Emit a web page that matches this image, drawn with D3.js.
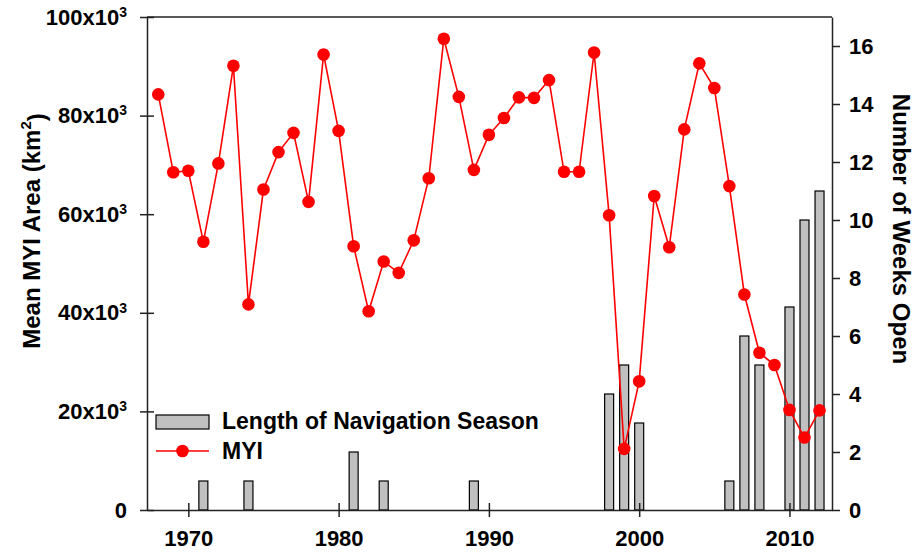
<!DOCTYPE html>
<html>
<head>
<meta charset="utf-8">
<script src="https://cdn.jsdelivr.net/npm/d3@7/dist/d3.min.js"></script>
<style>
  body { margin: 0; background: #fff; }
  svg text { font-family: "Liberation Sans", Arial, sans-serif; font-weight: bold; fill: #000; }
</style>
</head>
<body>
<div id="chart"></div>
<script>
// MYI area, one value per year (km^2)
var years = [1968, 1969, 1970, 1971, 1972, 1973, 1974, 1975, 1976, 1977,
             1978, 1979, 1980, 1981, 1982, 1983, 1984, 1985, 1986, 1987,
             1988, 1989, 1990, 1991, 1992, 1993, 1994, 1995, 1996, 1997,
             1998, 1999, 2000, 2001, 2002, 2003, 2004, 2005, 2006, 2007,
             2008, 2009, 2010, 2011, 2012];
var myiArea = [84300, 68500, 68800, 54400, 70300, 90100, 41700, 65000, 72600, 76500,
               62500, 92400, 76900, 53500, 40300, 50400, 48100, 54700, 67300, 95600,
               83800, 69000, 76100, 79500, 83700, 83600, 87200, 68600, 68600, 92800,
               59800, 12400, 26100, 63700, 53300, 77200, 90600, 85600, 65700, 43700,
               31900, 29400, 20300, 14700, 20200];

// length of navigation season (weeks open)
var navYears = [1971, 1974, 1981, 1983, 1989, 1998, 1999, 2000, 2006, 2007, 2008, 2010, 2011, 2012];
var navWeeks = [1, 1, 2, 1, 1, 4, 5, 3, 1, 6, 5, 7, 10, 11];

// tick labels
var yearTicks = [1970, 1980, 1990, 2000, 2010];
var areaTicks = [0, 20000, 40000, 60000, 80000, 100000];
var weekTicks = [0, 2, 4, 6, 8, 10, 12, 14, 16];

var width = 918, height = 552;
var plot = {left: 147, right: 832, top: 17, bottom: 510};

var svg = d3.select("#chart").append("svg")
            .attr("width", width)
            .attr("height", height);

var x = d3.scaleLinear().domain([1967.25, 2012.83]).range([plot.left, plot.right]);
var y = d3.scaleLinear().domain([0, 100000]).range([plot.bottom, plot.top]);
var yWeeks = d3.scaleLinear().domain([0, 17]).range([plot.bottom, plot.top]);

// bars (weeks open)
var barW = 9;
svg.append("g").selectAll("rect")
   .data(navYears)
   .join("rect")
   .attr("x", function (d) { return x(d) - barW / 2; })
   .attr("y", function (d, i) { return yWeeks(navWeeks[i]); })
   .attr("width", barW)
   .attr("height", function (d, i) { return yWeeks(0) - yWeeks(navWeeks[i]); })
   .attr("fill", "#c0c0c0")
   .attr("stroke", "#000")
   .attr("stroke-width", 1.2);

// MYI line + points
var line = d3.line()
             .x(function (d) { return x(d); })
             .y(function (d, i) { return y(myiArea[i]); });

svg.append("path")
   .datum(years)
   .attr("d", line)
   .attr("fill", "none")
   .attr("stroke", "#ff0000")
   .attr("stroke-width", 1.6);

svg.append("g").selectAll("circle")
   .data(years)
   .join("circle")
   .attr("cx", function (d) { return x(d); })
   .attr("cy", function (d, i) { return y(myiArea[i]); })
   .attr("r", 6.3)
   .attr("fill", "#ff0000");

// top border
svg.append("line")
   .attr("x1", plot.left).attr("x2", plot.right)
   .attr("y1", plot.top).attr("y2", plot.top)
   .attr("stroke", "#222").attr("stroke-width", 1.5);

// Axis X
var gx = svg.append("g")
            .attr("transform", "translate(0," + plot.bottom + ")")
            .call(d3.axisBottom(x).tickValues(yearTicks).tickFormat(d3.format("d"))
                                  .tickSizeInner(7).tickSizeOuter(0));
gx.selectAll(".tick line").attr("y1", -7);
gx.selectAll(".tick text").attr("y", 20).attr("font-size", 22);

// Axis Y left (area)
var gy = svg.append("g")
            .attr("transform", "translate(" + plot.left + ",0)")
            .call(d3.axisLeft(y).tickValues(areaTicks).tickSizeInner(7).tickSizeOuter(0).tickPadding(13));
gy.selectAll(".tick line").attr("x1", 7);
gy.selectAll(".tick text")
  .attr("font-size", 22)
  .each(function (d) {
      var t = d3.select(this).text(null);
      if (d === 0) { t.text("0"); return; }
      t.append("tspan").text((d / 1000) + "x10");
      t.append("tspan").attr("font-size", 14).attr("dy", "-0.55em").text("3");
  });

// Axis Y right (weeks)
var gr = svg.append("g")
            .attr("transform", "translate(" + plot.right + ",0)")
            .call(d3.axisRight(yWeeks).tickValues(weekTicks).tickSizeInner(8).tickSizeOuter(0).tickPadding(9));
gr.selectAll(".tick text").attr("font-size", 22);

[gx, gy, gr].forEach(function (g) {
    g.select(".domain").attr("stroke", "#222").attr("stroke-width", 1.5);
    g.selectAll(".tick line").attr("stroke", "#222").attr("stroke-width", 1.5);
});

// Axis titles
var leftTitle = svg.append("text")
   .attr("transform", "translate(40,231) rotate(-90)")
   .attr("text-anchor", "middle")
   .attr("font-size", 24);
leftTitle.append("tspan").text("Mean MYI Area (km");
leftTitle.append("tspan").attr("font-size", 15).attr("dy", "-0.6em").text("2");
leftTitle.append("tspan").attr("dy", "0.6em").text(")");

svg.append("text")
   .attr("transform", "translate(893,229) rotate(90)")
   .attr("text-anchor", "middle")
   .attr("font-size", 24)
   .text("Number of Weeks Open");

// Legend
var legend = svg.append("g");
legend.append("rect")
      .attr("x", 156).attr("y", 415).attr("width", 53).attr("height", 14)
      .attr("fill", "#c0c0c0").attr("stroke", "#000").attr("stroke-width", 1.2);
legend.append("text").attr("x", 222).attr("y", 429).attr("font-size", 23)
      .text("Length of Navigation Season");
legend.append("line")
      .attr("x1", 156).attr("x2", 209).attr("y1", 451).attr("y2", 451)
      .attr("stroke", "#ff0000").attr("stroke-width", 1.6);
legend.append("circle").attr("cx", 182.5).attr("cy", 451).attr("r", 6.3).attr("fill", "#ff0000");
legend.append("text").attr("x", 222).attr("y", 459).attr("font-size", 23).text("MYI");
</script>
</body>
</html>
